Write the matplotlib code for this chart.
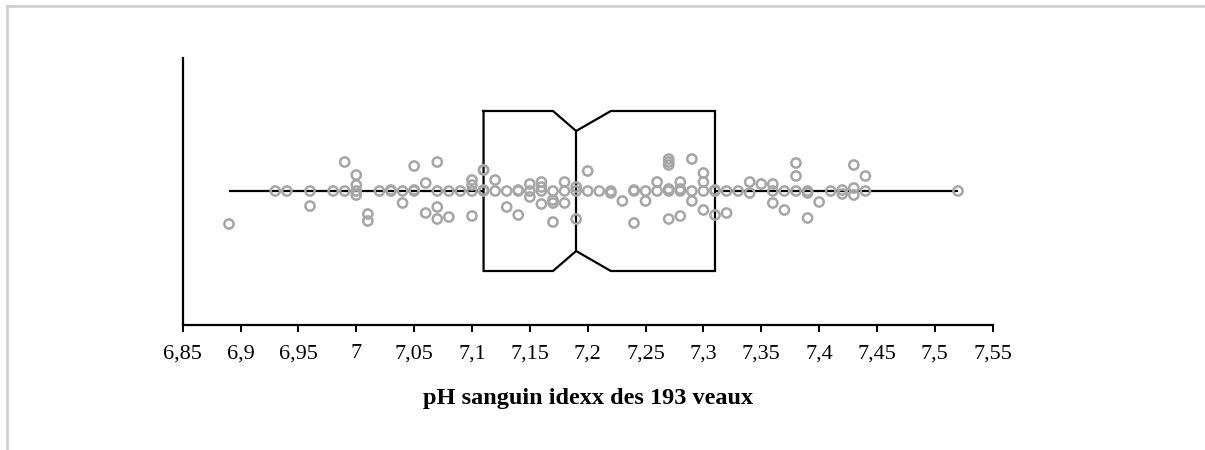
import matplotlib
matplotlib.use("Agg")
import matplotlib.pyplot as plt
from matplotlib.lines import Line2D
import numpy as np

# ---- data ----
ph_values = [
    6.89, 6.93, 6.94, 6.96, 6.96, 6.98, 6.99, 6.99, 7.00, 7.00, 7.00, 7.00,
    7.01, 7.01, 7.02, 7.03, 7.03, 7.04, 7.04, 7.05, 7.05, 7.05, 7.06, 7.06,
    7.07, 7.07, 7.07, 7.07, 7.08, 7.08, 7.09, 7.10, 7.10, 7.10, 7.10, 7.11,
    7.11, 7.11, 7.11,
    7.12, 7.12, 7.13, 7.13, 7.14, 7.14, 7.14, 7.15, 7.15, 7.15, 7.16, 7.16,
    7.16, 7.16, 7.17, 7.17, 7.17, 7.17, 7.18, 7.18, 7.18, 7.19, 7.19, 7.19,
    7.20, 7.20, 7.21, 7.22, 7.22, 7.23, 7.24, 7.24, 7.24, 7.25, 7.25, 7.26,
    7.26, 7.27, 7.27, 7.27, 7.27, 7.27, 7.27, 7.28, 7.28, 7.28, 7.28, 7.29,
    7.29, 7.29, 7.30, 7.30, 7.30, 7.30, 7.31, 7.31, 7.31, 7.32, 7.32,
    7.33, 7.34, 7.34, 7.35, 7.36, 7.36, 7.36, 7.37, 7.37, 7.38, 7.38, 7.38,
    7.39, 7.39, 7.39, 7.40, 7.41, 7.42, 7.42, 7.43, 7.43, 7.43, 7.44, 7.44,
    7.52,
]
jitter = [
    -33, 0, 0, 0, -15, 0, 0, 29, 0, 16, 6, -4,
    -23, -30, 0, 0, 1, 0, -12, 0, 1, 25, 8, -22,
    0, 29, -16, -28, 0, -26, 0, 0, 11, 6, -25, 0,
    1, 21, 21,
    11, 0, 0, -16, 0, 1, -24, 7, 0, -6, 9, 4,
    0, -13, 0, -9, -12, -31, 9, 0, -12, 4, 0, -28,
    20, 0, 0, 0, -2, -10, 1, 0, -32, 0, -10, 9,
    0, 32, 29, 26, 2, 0, -28, 9, 2, 0, -25, 32,
    0, -10, 18, 9, 0, -19, 1, 0, -24, 0, -22,
    0, 9, -2, 7, 7, 0, -12, 0, -19, 28, 15, 0,
    0, -2, -27, -11, 0, 1, -3, 26, 3, -4, 15, 0,
    0,
]

# box-plot summary statistics
whisker_low = 6.89
q1 = 7.11
notch_low = 7.17
median = 7.19
notch_high = 7.22
q3 = 7.31
whisker_high = 7.52

x_ticks = [6.85, 6.90, 6.95, 7.00, 7.05, 7.10, 7.15, 7.20, 7.25, 7.30,
           7.35, 7.40, 7.45, 7.50, 7.55]
x_label = "pH sanguin idexx des 193 veaux"

# ---- figure ----
W, H = 1205, 450
fig = plt.figure(figsize=(W / 100, H / 100), dpi=100)
fig.patch.set_facecolor("white")

ax_left, ax_right, ax_top, ax_bottom = 182.7, 992.7, 58, 325
ax = fig.add_axes([ax_left / W, 1 - ax_bottom / H,
                   (ax_right - ax_left) / W, (ax_bottom - ax_top) / H])

serif = ["Liberation Serif", "DejaVu Serif"]

# box geometry (vertical, in pixel-like units centred on 0)
half = 80
inner = 60

# whiskers
ax.plot([whisker_low, q1], [0, 0], color="black", lw=1.6, zorder=2,
        solid_capstyle="butt")
ax.plot([q3, whisker_high], [0, 0], color="black", lw=1.6, zorder=2,
        solid_capstyle="butt")

# notched box outline
bx = [q1, notch_low, median, notch_high, q3, q3, notch_high, median,
      notch_low, q1, q1]
by = [half, half, inner, half, half, -half, -half, -inner, -half, -half, half]
ax.plot(bx, by, color="black", lw=1.6, zorder=2, solid_joinstyle="miter")
ax.plot([median, median], [inner, -inner], color="black", lw=1.6, zorder=2)

# jittered points
ax.scatter(ph_values, jitter, s=44, facecolors="none", edgecolors="#a6a6a6",
           linewidths=1.8, zorder=3)

ax.set_xlim(6.85, 7.55)
ax.set_ylim(-(ax_bottom - 191), 191 - ax_top)

ax.set_xticks(x_ticks)
ax.set_xticklabels([f"{v:g}".replace(".", ",") for v in x_ticks],
                   fontfamily=serif, fontsize=16)
ax.tick_params(axis="x", direction="out", length=5, width=1.4, pad=9,
               color="black")
ax.set_yticks([])

for s in ["top", "right"]:
    ax.spines[s].set_visible(False)
for s in ["left", "bottom"]:
    ax.spines[s].set_linewidth(1.6)
    ax.spines[s].set_color("black")

ax.set_xlabel(x_label, fontfamily=serif, fontsize=17.5, fontweight="bold",
              labelpad=18)

# light frame at top and left of the figure
fig.add_artist(Line2D([7 / W, 1], [1 - 6 / H, 1 - 6 / H],
                      transform=fig.transFigure, color="#d0d0d0", lw=2))
fig.add_artist(Line2D([7 / W, 7 / W], [0, 1 - 6 / H],
                      transform=fig.transFigure, color="#d0d0d0", lw=2))

fig.savefig("out.png", dpi=100)
